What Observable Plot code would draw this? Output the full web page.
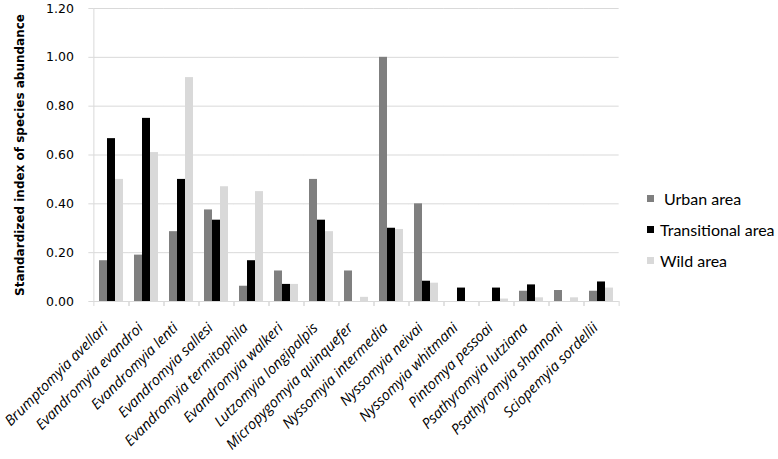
<!DOCTYPE html>
<html><head><meta charset="utf-8">
<script src="https://cdn.jsdelivr.net/npm/d3@7"></script>
<script src="https://cdn.jsdelivr.net/npm/@observablehq/plot@0.6"></script>
<style>
body{margin:0;background:#fff;}
#wrap{position:relative;width:778px;height:459px;overflow:hidden;}
.legend{position:absolute;left:647px;top:183px;font-family:Lato,"Open Sans",sans-serif;font-size:16px;color:#000;}
.legend .row{display:flex;align-items:center;height:31px;}
.legend .sw{display:inline-block;width:7px;height:7px;margin-right:6px;}
</style></head><body><div id="wrap"></div>
<script>
const species = ["Brumptomyia avellari","Evandromyia evandroi","Evandromyia lenti","Evandromyia sallesi","Evandromyia termitophila","Evandromyia walkeri","Lutzomyia longipalpis","Micropygomyia quinquefer","Nyssomyia intermedia","Nyssomyia neivai","Nyssomyia whitmani","Pintomya pessoai","Psathyromyia lutziana","Psathyromyia shannoni","Sciopemyia sordellii"];
const seriesNames = ["Urban area","Transitional area","Wild area"];
const urban        = [0.167,0.19,0.286,0.375,0.0625,0.125,0.5,0.125,1.0,0.4,0,0,0.042,0.045,0.042];
const transitional = [0.667,0.75,0.5,0.333,0.167,0.07,0.333,0,0.3,0.083,0.055,0.055,0.068,0,0.08];
const wild         = [0.5,0.61,0.917,0.47,0.45,0.07,0.286,0.017,0.295,0.075,0,0.01,0.015,0.015,0.055];
const seriesColors = ["#7f7f7f","#000000","#d9d9d9"];
const yTicks = [0,0.2,0.4,0.6,0.8,1.0,1.2];
const yTitle = "Standardized index of species abundance";

const W = 778, H = 459, mL = 91, mR = 158, mT = 8, mB = 158;
const n = species.length;
const padIn = 0.32, padOut = 0.16;
const step = (W - mL - mR) / (n - padIn + 2 * padOut);
const gap = step * padIn;
const tickLen = 5 / ((H - mT - mB) / 1.2);
const axisGray = "#d9d9d9";
const fmt = d3.format(".2f");

const seriesArrays = [urban, transitional, wild];
const data = species.flatMap((s, i) => seriesNames.map((a, k) => ({species: s, area: a, value: seriesArrays[k][i]})));

const chart = Plot.plot({
  width: W, height: H,
  marginLeft: mL, marginRight: mR, marginTop: mT, marginBottom: mB,
  style: {fontFamily: "Lato, 'Open Sans', sans-serif", background: "white", color: "#000", overflow: "visible"},
  fx: {domain: species, paddingInner: padIn, paddingOuter: padOut, label: null},
  x: {domain: seriesNames, padding: 0, axis: null},
  y: {domain: [0, 1.2]},
  color: {domain: seriesNames, range: seriesColors},
  marks: [
    Plot.gridY({ticks: yTicks, stroke: axisGray, strokeOpacity: 1, insetLeft: -gap / 2, insetRight: -gap / 2}),
    Plot.ruleY([0], {stroke: axisGray, insetLeft: -gap / 2, insetRight: -gap / 2}),
    Plot.ruleX([species[0]], {fx: d => d, x: null, y1: 0, y2: 1.2, dx: -step / 2, stroke: axisGray}),
    Plot.ruleX([0], {x: null, y1: 0, y2: -tickLen, dx: -step / 2, stroke: axisGray}),
    Plot.ruleX([0], {x: null, y1: 0, y2: -tickLen, dx: step / 2, stroke: axisGray}),
    Plot.barY(data, {fx: "species", x: "area", y: "value", fill: "area"}),
    Plot.axisY({ticks: yTicks, tickFormat: fmt, tickSize: 5, tickPadding: 15, dx: -gap / 2, stroke: axisGray, label: null}),
    Plot.axisY({ticks: [], label: yTitle, labelAnchor: "center", labelArrow: "none", labelOffset: 84}),
    Plot.axisFx({anchor: "bottom", tickRotate: -45, tickSize: 0, tickPadding: 24, dx: -6, label: null})
  ]
});
const wrap = document.getElementById("wrap");
wrap.appendChild(chart);

const yLabels = yTicks.map(fmt);
chart.querySelectorAll("text").forEach(t => {
  const s = t.textContent.trim();
  if (species.includes(s)) {
    t.style.fontFamily = "'Open Sans', sans-serif";
    t.style.fontStyle = "italic";
    t.style.fontSize = "14.5px";
  } else if (yLabels.includes(s)) {
    t.style.fontFamily = "'DejaVu Sans', sans-serif";
    t.style.fontSize = "12.5px";
  } else if (s.startsWith("Standardized")) {
    t.style.fontFamily = "'DejaVu Sans', sans-serif";
    t.style.fontSize = "12px";
    t.style.fontWeight = "bold";
  }
});

const legend = document.createElement("div");
legend.className = "legend";
seriesNames.forEach((name, k) => {
  const row = document.createElement("div");
  row.className = "row";
  const sw = document.createElement("span");
  sw.className = "sw";
  sw.style.background = seriesColors[k];
  const t = document.createElement("span");
  t.textContent = name;
  if (k === 0) t.style.marginLeft = "4px";
  row.appendChild(sw); row.appendChild(t);
  legend.appendChild(row);
});
wrap.appendChild(legend);
</script></body></html>
